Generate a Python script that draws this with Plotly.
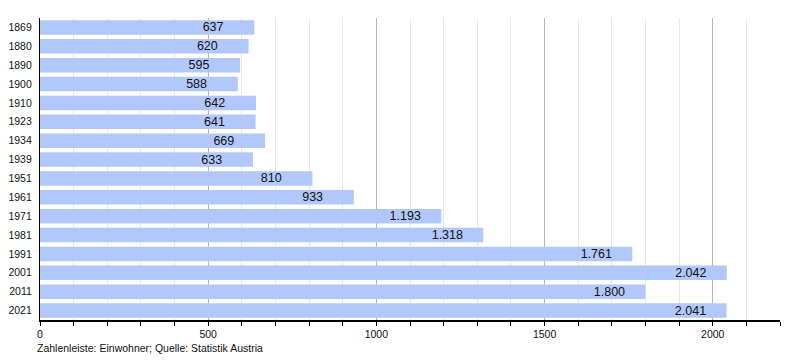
import plotly.graph_objects as go

years = ["1869", "1880", "1890", "1900", "1910", "1923", "1934", "1939",
         "1951", "1961", "1971", "1981", "1991", "2001", "2011", "2021"]
population = [637, 620, 595, 588, 642, 641, 669, 633,
              810, 933, 1193, 1318, 1761, 2042, 1800, 2041]
labels = [f"{v:,}".replace(",", ".") for v in population]
x_ticks = [0, 500, 1000, 1500, 2000]

# padding so the label sits a little left of the bar end, as in the reference
padded = [t + "\u00a0" * (8 if len(t) <= 3 else 5) for t in labels]

fig = go.Figure()
fig.add_trace(go.Bar(
    y=years, x=population, orientation="h",
    marker=dict(color="#b3c8fa", line=dict(width=0)),
    text=padded, textposition="inside", insidetextanchor="end",
    constraintext="none",
    textfont=dict(family="Liberation Sans, Arial, sans-serif", size=12.5, color="#111111"),
    hoverinfo="x+y",
))

fig.update_layout(
    width=800, height=360,
    margin=dict(l=32, r=28, t=10, b=48),
    paper_bgcolor="white", plot_bgcolor="white",
    bargap=0.23,
    showlegend=False,
    font=dict(family="Liberation Sans, Arial, sans-serif", size=10.5, color="#111111"),
    xaxis=dict(
        range=[0, 2200], tickvals=x_ticks, ticktext=[str(t) for t in x_ticks],
        showgrid=True, gridcolor="#b4b4b4", gridwidth=1,
        minor=dict(dtick=100, showgrid=True, gridcolor="#e6e6e6", gridwidth=1,
                   ticks="outside", ticklen=4, tickcolor="black"),
        ticks="outside", ticklen=4, tickcolor="black",
        showline=True, linecolor="black", linewidth=1.5,
        zeroline=False, tickfont=dict(size=10.5), layer="below traces",
        automargin=False,
    ),
    yaxis=dict(
        autorange="reversed", showgrid=False, zeroline=False,
        showline=True, linecolor="black", linewidth=1.2,
        ticks="", tickfont=dict(size=10.5), ticklabelstandoff=5,
        automargin=False,
    ),
    annotations=[dict(
        text="Zahlenleiste: Einwohner; Quelle: Statistik Austria",
        xref="paper", yref="paper", x=-0.007, y=-0.067,
        xanchor="left", yanchor="top", showarrow=False,
        font=dict(size=10.5, color="#111111"),
    )],
)

fig.write_html("out.html")
